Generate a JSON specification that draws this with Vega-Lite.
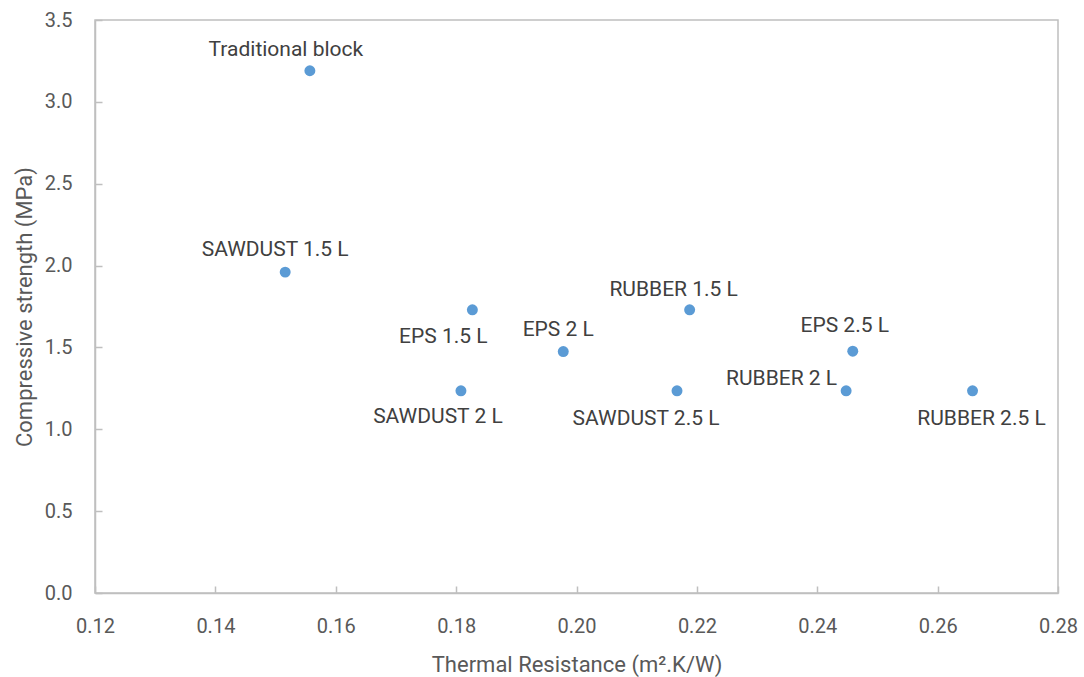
{
  "$schema": "https://vega.github.io/schema/vega-lite/v6.json",
  "width": 963,
  "height": 573,
  "autosize": "none",
  "padding": {"left": 95, "top": 20, "right": 26, "bottom": 84},
  "background": "white",
  "config": {
    "view": {"stroke": "#bfbfbf", "strokeWidth": 1.5},
    "font": "Roboto",
    "axis": {
      "grid": false,
      "domainColor": "#bfbfbf",
      "domainWidth": 1.5,
      "tickColor": "#bfbfbf",
      "tickWidth": 1.5,
      "labelFont": "Roboto",
      "labelFontSize": 20,
      "labelColor": "#595959",
      "titleFont": "Roboto",
      "titleFontSize": 22,
      "titleFontWeight": "normal",
      "titleColor": "#595959"
    }
  },
  "data": {
    "values": [
      {"label": "Traditional block", "r": 0.1557, "s": 3.19},
      {"label": "SAWDUST 1.5 L", "r": 0.1516, "s": 1.96},
      {"label": "EPS 1.5 L", "r": 0.1827, "s": 1.73},
      {"label": "EPS 2 L", "r": 0.1978, "s": 1.475},
      {"label": "RUBBER 1.5 L", "r": 0.2188, "s": 1.73},
      {"label": "SAWDUST 2 L", "r": 0.1808, "s": 1.235},
      {"label": "SAWDUST 2.5 L", "r": 0.2167, "s": 1.235},
      {"label": "EPS 2.5 L", "r": 0.2459, "s": 1.477},
      {"label": "RUBBER 2 L", "r": 0.2448, "s": 1.235},
      {"label": "RUBBER 2.5 L", "r": 0.2658, "s": 1.235}
    ]
  },
  "encoding": {
    "x": {
      "field": "r",
      "type": "quantitative",
      "scale": {"domain": [0.12, 0.28], "nice": false, "zero": false},
      "axis": {
        "title": "Thermal Resistance (m².K/W)",
        "values": [0.12, 0.14, 0.16, 0.18, 0.2, 0.22, 0.24, 0.26, 0.28],
        "format": ".2f",
        "tickSize": -7,
        "labelPadding": 30,
        "titleX": 481.5,
        "titleY": 71,
        "titleBaseline": "middle",
        "titleAlign": "center",
        "labelFlush": false,
        "labelOverlap": false
      }
    },
    "y": {
      "field": "s",
      "type": "quantitative",
      "scale": {"domain": [0, 3.5], "nice": false},
      "axis": {
        "title": "Compressive strength (MPa)",
        "values": [0, 0.5, 1, 1.5, 2, 2.5, 3, 3.5],
        "format": ".1f",
        "tickSize": -7,
        "labelPadding": 30,
        "titleX": -71,
        "titleY": 286.5,
        "titleBaseline": "middle",
        "titleAlign": "center",
        "labelFlush": false,
        "labelOverlap": false
      }
    }
  },
  "layer": [
    {"mark": {"type": "circle", "size": 120, "color": "#5b9bd5", "opacity": 1}},
    {"transform": [{"filter": {"field": "label", "equal": "Traditional block"}}],
     "mark": {"type": "text", "dx": -24, "dy": -21, "fontSize": 21, "color": "#404040", "baseline": "middle"},
     "encoding": {"text": {"field": "label"}}},
    {"transform": [{"filter": {"field": "label", "equal": "SAWDUST 1.5 L"}}],
     "mark": {"type": "text", "dx": -10, "dy": -22, "fontSize": 21, "color": "#404040", "baseline": "middle"},
     "encoding": {"text": {"field": "label"}}},
    {"transform": [{"filter": {"field": "label", "equal": "EPS 1.5 L"}}],
     "mark": {"type": "text", "dx": -29, "dy": 27, "fontSize": 21, "color": "#404040", "baseline": "middle"},
     "encoding": {"text": {"field": "label"}}},
    {"transform": [{"filter": {"field": "label", "equal": "EPS 2 L"}}],
     "mark": {"type": "text", "dx": -5, "dy": -22, "fontSize": 21, "color": "#404040", "baseline": "middle"},
     "encoding": {"text": {"field": "label"}}},
    {"transform": [{"filter": {"field": "label", "equal": "RUBBER 1.5 L"}}],
     "mark": {"type": "text", "dx": -16, "dy": -20, "fontSize": 21, "color": "#404040", "baseline": "middle"},
     "encoding": {"text": {"field": "label"}}},
    {"transform": [{"filter": {"field": "label", "equal": "SAWDUST 2 L"}}],
     "mark": {"type": "text", "dx": -23, "dy": 26, "fontSize": 21, "color": "#404040", "baseline": "middle"},
     "encoding": {"text": {"field": "label"}}},
    {"transform": [{"filter": {"field": "label", "equal": "SAWDUST 2.5 L"}}],
     "mark": {"type": "text", "dx": -31, "dy": 28, "fontSize": 21, "color": "#404040", "baseline": "middle"},
     "encoding": {"text": {"field": "label"}}},
    {"transform": [{"filter": {"field": "label", "equal": "EPS 2.5 L"}}],
     "mark": {"type": "text", "dx": -8, "dy": -25, "fontSize": 21, "color": "#404040", "baseline": "middle"},
     "encoding": {"text": {"field": "label"}}},
    {"transform": [{"filter": {"field": "label", "equal": "RUBBER 2 L"}}],
     "mark": {"type": "text", "dx": -9, "dy": -12, "align": "right", "fontSize": 21, "color": "#404040", "baseline": "middle"},
     "encoding": {"text": {"field": "label"}}},
    {"transform": [{"filter": {"field": "label", "equal": "RUBBER 2.5 L"}}],
     "mark": {"type": "text", "dx": 9, "dy": 28, "fontSize": 21, "color": "#404040", "baseline": "middle"},
     "encoding": {"text": {"field": "label"}}}
  ]
}
